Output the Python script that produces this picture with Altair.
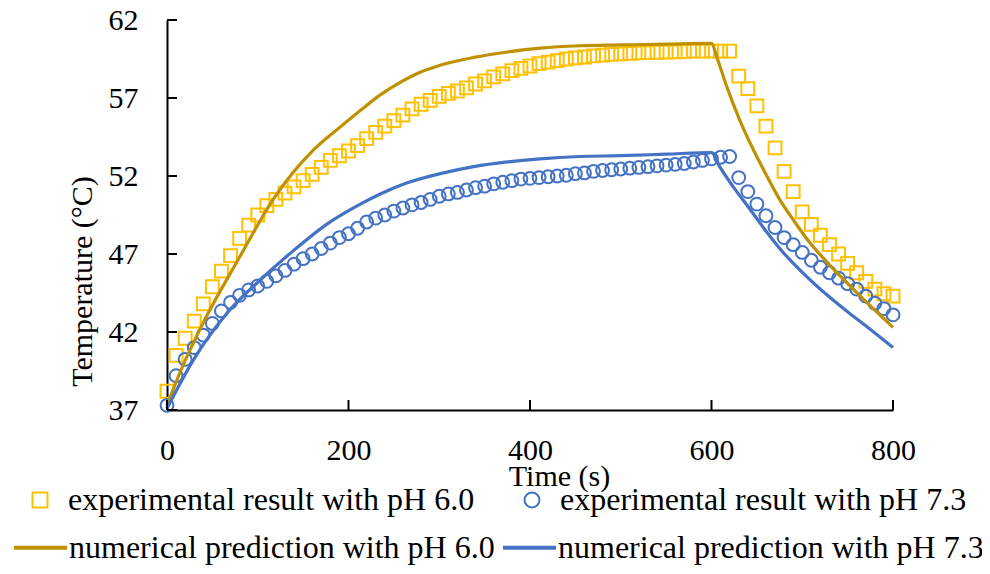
import altair as alt
import pandas as pd

FONT = "Liberation Serif"

# ---------------- data ----------------
exp_time = list(range(0, 801, 10))
exp_ph60 = [38.2, 40.5, 41.6, 42.7, 43.8, 44.9, 45.9, 46.9, 48.0, 48.85,
            49.5, 50.1, 50.5, 50.9, 51.3, 51.7, 52.1, 52.55, 53.0, 53.3,
            53.6, 53.95, 54.4, 54.8, 55.2, 55.55, 55.9, 56.3, 56.6, 56.85,
            57.1, 57.3, 57.45, 57.65, 57.9, 58.1, 58.35, 58.55, 58.75, 58.9,
            59.05, 59.2, 59.3, 59.4, 59.5, 59.57, 59.63, 59.7, 59.75, 59.8,
            59.83, 59.86, 59.89, 59.91, 59.93, 59.95, 59.96, 59.98, 60.0, 60.0,
            60.0, 60.0, 60.0, 58.4, 57.6, 56.5, 55.2, 53.8, 52.3, 51.0,
            49.7, 48.9, 48.2, 47.6, 47.0, 46.4, 45.8, 45.25, 44.75, 44.45,
            44.3]
exp_ph73 = [37.3, 39.2, 40.25, 41.0, 41.8, 42.55, 43.35, 43.9, 44.35, 44.7,
            44.95, 45.25, 45.6, 45.95, 46.35, 46.7, 47.0, 47.35, 47.7, 48.05,
            48.3, 48.65, 49.05, 49.3, 49.5, 49.75, 49.95, 50.15, 50.3, 50.5,
            50.7, 50.85, 50.95, 51.1, 51.25, 51.35, 51.5, 51.6, 51.7, 51.8,
            51.85, 51.9, 51.95, 52.0, 52.05, 52.15, 52.2, 52.3, 52.35, 52.4,
            52.45, 52.5, 52.55, 52.6, 52.65, 52.7, 52.75, 52.8, 52.9, 53.0,
            53.1, 53.2, 53.25, 51.9, 51.0, 50.2, 49.45, 48.7, 48.05, 47.6,
            47.1, 46.6, 46.15, 45.8, 45.45, 45.1, 44.75, 44.3, 43.85, 43.5,
            43.1]

num60_time = [0, 15, 40, 81, 117, 162, 191, 213, 235, 257, 279, 301, 338, 375,
              411, 455, 499, 550, 600, 606, 617, 631, 646, 661, 675, 690, 708,
              727, 745, 764, 782, 800]
num60_temp = [37.3, 39.5, 42.6, 46.9, 50.5, 53.7, 55.15, 56.2, 57.2, 58.0,
              58.65, 59.1, 59.6, 59.95, 60.2, 60.35, 60.4, 60.45, 60.5, 59.6,
              57.7, 55.6, 53.7, 52.0, 50.5, 49.2, 47.75, 46.5, 45.4, 44.3,
              43.3, 42.3]
num73_time = [0, 29, 66, 103, 139, 177, 213, 235, 264, 301, 338, 375, 411,
              455, 499, 550, 600, 609, 624, 642, 661, 679, 697, 716, 734, 752,
              771, 800]
num73_temp = [37.1, 40.2, 43.2, 45.35, 47.2, 48.95, 50.2, 50.85, 51.55, 52.15,
              52.6, 52.9, 53.1, 53.25, 53.3, 53.4, 53.5, 52.6, 51.3, 49.9,
              48.4, 47.1, 46.0, 44.95, 44.05, 43.2, 42.35, 41.0]

exp_names = ["experimental result with pH 6.0", "experimental result with pH 7.3"]
num_names = ["numerical prediction with pH 6.0", "numerical prediction with pH 7.3"]
exp_colors = ["#FFC000", "#4472C4"]
num_colors = ["#BF9000", "#4472C4"]

x_ticks = [0, 200, 400, 600, 800]
y_ticks = [37, 42, 47, 52, 57, 62]

# ---------------- tables ----------------
exp_df = pd.concat([
    pd.DataFrame({"t": exp_time, "T": exp_ph60, "series": exp_names[0]}),
    pd.DataFrame({"t": exp_time, "T": exp_ph73, "series": exp_names[1]}),
])
num_df = pd.concat([
    pd.DataFrame({"t": num60_time, "T": num60_temp, "model": num_names[0]}),
    pd.DataFrame({"t": num73_time, "T": num73_temp, "model": num_names[1]}),
])
xt_df = pd.DataFrame({"t": x_ticks})
yt_df = pd.DataFrame({"T": y_ticks})

W, H = 726, 390

x_scale = alt.Scale(domain=[0, 800], nice=False, zero=False, padding=0)
y_scale = alt.Scale(domain=[37, 62], nice=False, zero=False, padding=0)

x_axis = alt.Axis(values=x_ticks, title="Time (s)", ticks=False, tickSize=0,
                  labelPadding=25, grid=False, labelFlush=False,
                  labelFont=FONT, labelFontSize=30, labelColor="black",
                  titleFont=FONT, titleFontSize=30, titleColor="black",
                  titleFontWeight="normal",
                  titleX=392, titleY=75, titleBaseline="alphabetic", titleAlign="center",
                  domainColor="black", domainWidth=2)
y_axis = alt.Axis(values=y_ticks, title="Temperature (°C)", ticks=False, tickSize=0,
                  labelPadding=29, grid=False, labelFlush=False,
                  labelFont=FONT, labelFontSize=30, labelColor="black",
                  titleFont=FONT, titleFontSize=30, titleColor="black",
                  titleFontWeight="normal",
                  titleAngle=270, titleX=-85, titleY=261, titleAlign="center",
                  titleBaseline="middle", domainColor="black", domainWidth=2)

exp_legend = alt.Legend(title=None, orient="none", legendX=-143, legendY=464,
                        direction="horizontal", columns=2, columnPadding=41,
                        labelFont=FONT, labelFontSize=32, labelLimit=0,
                        labelColor="black", labelOffset=12,
                        symbolSize=225, symbolStrokeWidth=2, padding=0)

points = alt.Chart(exp_df).mark_point(filled=False, strokeWidth=2, size=165, opacity=1).encode(
    x=alt.X("t:Q", scale=x_scale, axis=x_axis),
    y=alt.Y("T:Q", scale=y_scale, axis=y_axis),
    stroke=alt.Stroke("series:N", scale=alt.Scale(domain=exp_names, range=exp_colors),
                      legend=exp_legend),
    shape=alt.Shape("series:N", scale=alt.Scale(domain=exp_names, range=["square", "circle"]),
                    legend=exp_legend),
    order=alt.Order("series:N"),
)

lines = alt.Chart(num_df).mark_line(strokeWidth=3.2, interpolate="monotone").encode(
    x=alt.X("t:Q", scale=x_scale),
    y=alt.Y("T:Q", scale=y_scale),
    color=alt.Color("model:N", scale=alt.Scale(domain=num_names, range=num_colors),
                    legend=alt.Legend(title=None, orient="none", legendX=-155, legendY=499,
                                      direction="horizontal", columns=2, columnPadding=0,
                                      labelFont=FONT, labelFontSize=32, labelLimit=0,
                                      labelColor="black", labelOffset=0,
                                      symbolType="stroke", symbolSize=2809,
                                      symbolStrokeWidth=4, padding=0)),
)

xticks = alt.Chart(xt_df).mark_rule(color="black", strokeWidth=2).encode(
    x=alt.X("t:Q", scale=x_scale), y=alt.value(H), y2=alt.value(H - 10))
yticks = alt.Chart(yt_df).mark_rule(color="black", strokeWidth=2).encode(
    y=alt.Y("T:Q", scale=y_scale), x=alt.value(0), x2=alt.value(10))

chart = alt.layer(points, lines, xticks, yticks).resolve_scale(
    color="independent", stroke="independent", shape="independent"
).properties(
    width=W, height=H,
    autosize=alt.AutoSizeParams(type="none"),
    padding={"left": 159, "top": 12, "right": 89, "bottom": 156},
    background="white",
).configure_view(stroke=None).configure_scale(continuousPadding=0)

chart.save("out.html", embed_options={"renderer": "svg", "actions": False})
